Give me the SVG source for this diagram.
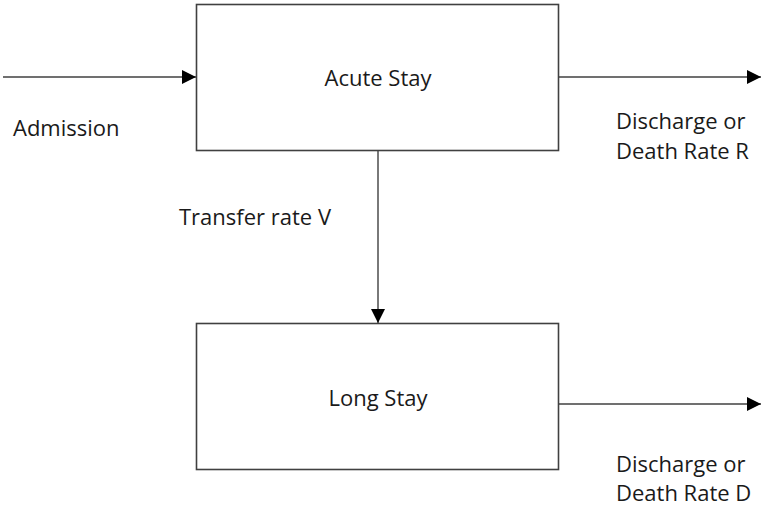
<svg xmlns="http://www.w3.org/2000/svg" width="766" height="506" viewBox="0 0 766 506">
<style>
.box{fill:#fff;stroke:#404040;stroke-width:1.6}
.line{stroke:#404040;stroke-width:1.4;fill:none}
text{font-family:"Open Sans","Noto Sans","DejaVu Sans",sans-serif;font-size:22px;fill:#1a1a1a}
.c{text-anchor:middle}
</style>
<defs>
<marker id="arr" viewBox="0 0 14 14" refX="14" refY="7" markerWidth="14" markerHeight="14" markerUnits="userSpaceOnUse" orient="auto">
<path d="M0,0 L14,7 L0,14 Z" fill="#000"/>
</marker>
</defs>
<rect width="766" height="506" fill="#fff"/>
<g id="connectors">
<line class="line" x1="3" y1="77" x2="196" y2="77" marker-end="url(#arr)"/>
<line class="line" x1="558" y1="77" x2="761" y2="77" marker-end="url(#arr)"/>
<line class="line" x1="378" y1="151" x2="378" y2="323" marker-end="url(#arr)"/>
<line class="line" x1="558" y1="404" x2="761" y2="404" marker-end="url(#arr)"/>
</g>
<g id="acute">
<rect class="box" x="196.5" y="4.5" width="362" height="146"/>
<text class="c" x="378" y="86">Acute Stay</text>
</g>
<g id="long">
<rect class="box" x="196.5" y="323.5" width="362" height="146"/>
<text class="c" x="378" y="406">Long Stay</text>
</g>
<g id="labels">
<text x="13" y="136">Admission</text>
<text x="616" y="129">Discharge or</text>
<text x="616" y="159">Death Rate R</text>
<text x="179" y="225">Transfer rate V</text>
<text x="616" y="472">Discharge or</text>
<text x="616" y="501">Death Rate D</text>
</g>
</svg>
